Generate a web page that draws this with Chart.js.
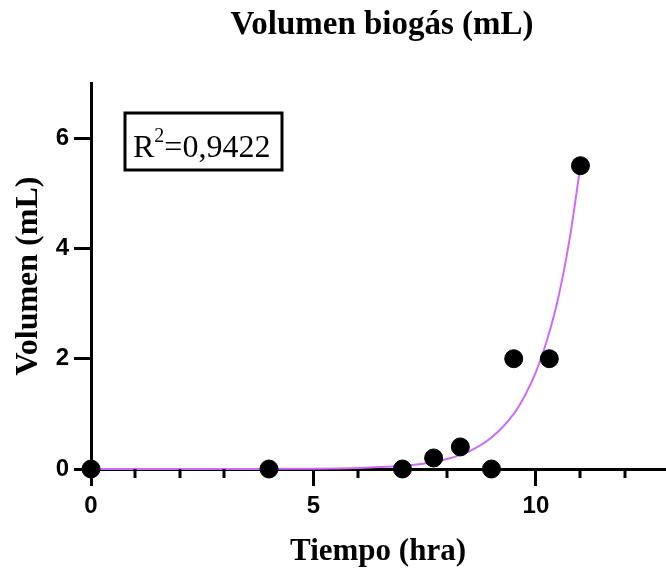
<!DOCTYPE html>
<html>
<head>
<meta charset="utf-8">
<script src="https://cdn.jsdelivr.net/npm/chart.js@4/dist/chart.umd.min.js"></script>
<style>
  html, body { margin: 0; padding: 0; background: #fff; overflow: hidden; }
  #wrap { width: 675px; height: 574px; }
</style>
</head>
<body>
<div id="wrap"><canvas id="biogasChart"></canvas></div>
<script>
// measured points
var tiempo = [0, 4, 7, 7.7, 8.3, 9, 9.5, 10.3, 11];
var volumen = [0, 0, 0, 0.2, 0.4, 0, 2, 2, 5.5];

// fitted curve
var ajusteX = [0, 2, 4, 5, 6, 6.5, 7, 7.5, 8, 8.5, 9, 9.5, 9.75, 10, 10.25, 10.5, 10.75, 11];
var ajusteY = [0, 0, 0.002, 0.006, 0.02, 0.035, 0.06, 0.1, 0.18, 0.32, 0.57, 1.0, 1.33, 1.76, 2.34, 3.1, 4.14, 5.5];

var xMajor = [0, 5, 10];
var xMinor = [1, 2, 3, 4, 6, 7, 8, 9, 11, 12];
var yTicks = [0, 2, 4, 6];

var titulo = 'Volumen biogás (mL)';
var r2Texto = '=0,9422';

var serif = "'Liberation Serif', 'Times New Roman', serif";
var sans = "'Liberation Sans', Arial, sans-serif";

function toXY(xs, ys) {
    return xs.map(function (x, i) { return { x: x, y: ys[i] }; });
}

// title centred over plot area + minor ticks + R² box
var extras = {
    id: 'extras',
    afterDraw: function (chart) {
        var ctx = chart.ctx;
        var area = chart.chartArea;
        var xs = chart.scales.x;
        ctx.save();
        ctx.fillStyle = '#000';
        ctx.font = 'bold 33px ' + serif;
        ctx.textAlign = 'center';
        ctx.textBaseline = 'alphabetic';
        ctx.fillText(titulo, (area.left + area.right) / 2 + 4, 34);

        ctx.strokeStyle = '#000';
        ctx.lineWidth = 3;
        xMinor.forEach(function (v) {
            var px = Math.round(xs.getPixelForValue(v));
            ctx.beginPath();
            ctx.moveTo(px, area.bottom);
            ctx.lineTo(px, area.bottom + 9);
            ctx.stroke();
        });

        // R² box
        var bx = area.left + 34, by = area.top + 30, bw = 157, bh = 57;
        ctx.lineWidth = 3;
        ctx.strokeRect(bx, by, bw, bh);
        ctx.textAlign = 'left';
        ctx.font = '32px ' + serif;
        var tx = bx + 8, ty = by + 44;
        ctx.fillText('R', tx, ty);
        tx += ctx.measureText('R').width;
        ctx.font = '20px ' + serif;
        ctx.fillText('2', tx, ty - 15);
        tx += ctx.measureText('2').width;
        ctx.font = '32px ' + serif;
        ctx.fillText(r2Texto, tx, ty);
        ctx.restore();
    }
};

document.addEventListener('DOMContentLoaded', function () {
    var ctx = document.getElementById('biogasChart').getContext('2d');
    new Chart(ctx, {
        type: 'scatter',
        data: {
            datasets: [{
                label: 'Volumen',
                data: toXY(tiempo, volumen),
                backgroundColor: '#000',
                borderColor: '#000',
                pointRadius: 9,
                pointHoverRadius: 9,
                clip: false,
                order: 0
            }, {
                label: 'Ajuste',
                type: 'line',
                data: toXY(ajusteX, ajusteY),
                borderColor: '#cc6cf5',
                borderWidth: 2,
                pointRadius: 0,
                cubicInterpolationMode: 'monotone',
                fill: false,
                clip: false,
                order: 1
            }]
        },
        options: {
            responsive: true,
            maintainAspectRatio: false,
            animation: false,
            layout: { padding: { top: 83, left: 0, right: 0, bottom: 0 } },
            plugins: {
                legend: { display: false },
                title: { display: false },
                tooltip: { enabled: false }
            },
            scales: {
                x: {
                    type: 'linear',
                    min: 0,
                    max: 12.9,
                    afterBuildTicks: function (s) {
                        s.ticks = xMajor.map(function (v) { return { value: v }; });
                    },
                    afterFit: function (s) { s.height = 105; },
                    grid: { drawOnChartArea: false, tickLength: 17, tickWidth: 3, color: '#000' },
                    border: { display: true, width: 3, color: '#000' },
                    ticks: { color: '#000', padding: 6, font: { family: sans, size: 24, weight: 'bold' } },
                    title: {
                        display: true,
                        text: 'Tiempo (hra)',
                        color: '#000',
                        padding: { top: 4, bottom: 3 },
                        font: { family: serif, size: 31, weight: 'bold' }
                    }
                },
                y: {
                    min: 0,
                    max: 7,
                    afterBuildTicks: function (s) {
                        s.ticks = yTicks.map(function (v) { return { value: v }; });
                    },
                    afterFit: function (s) { s.width = 91; },
                    grid: { drawOnChartArea: false, tickLength: 17, tickWidth: 3, color: '#000' },
                    border: { display: true, width: 3, color: '#000' },
                    ticks: { color: '#000', padding: 5, font: { family: sans, size: 24, weight: 'bold' } },
                    title: {
                        display: true,
                        text: 'Volumen (mL)',
                        color: '#000',
                        padding: { top: 10, bottom: 4 },
                        font: { family: serif, size: 32, weight: 'bold' }
                    }
                }
            }
        },
        plugins: [extras]
    });
});
</script>
</body>
</html>
